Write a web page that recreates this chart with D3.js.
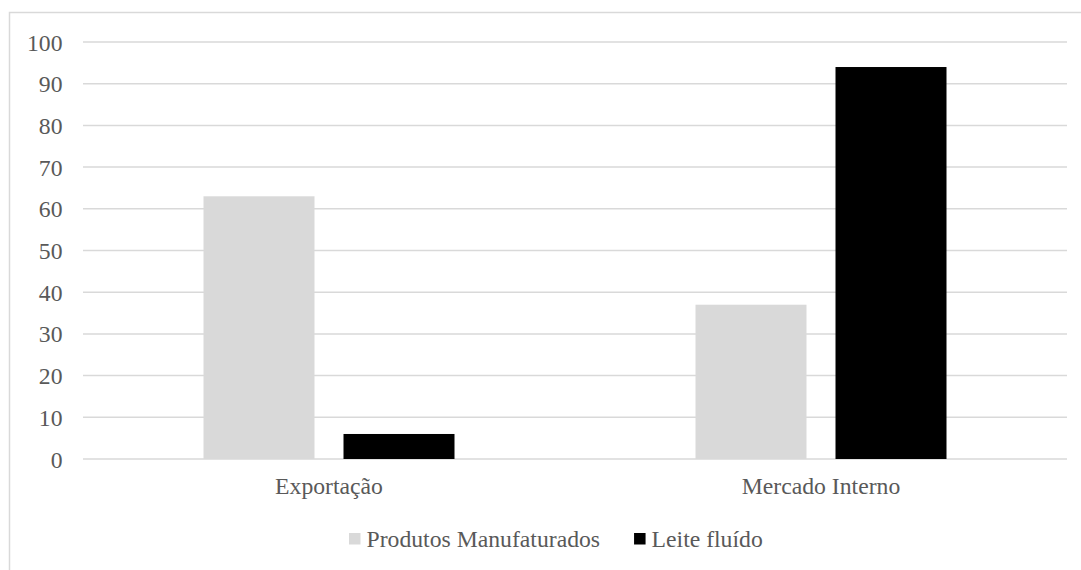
<!DOCTYPE html>
<html>
<head>
<meta charset="utf-8">
<script src="https://cdn.jsdelivr.net/npm/d3@7"></script>
<style>
  html, body { margin: 0; padding: 0; background: #fff; }
  svg { display: block; }
  svg text { font-family: "Liberation Serif", "Times New Roman", Tinos, "DejaVu Serif", serif; font-size: 23.7px; fill: #595959; }
</style>
</head>
<body>
<svg id="chart" width="1081" height="570"></svg>
<script>
// Destino da produção de leite (%)
const categories = ["Exportação", "Mercado Interno"];
const series = ["Produtos Manufaturados", "Leite fluído"];
const manufaturados = [63, 37];
const leiteFluido = [6, 94];
const yTicks = [0, 10, 20, 30, 40, 50, 60, 70, 80, 90, 100];

const colors = { "Produtos Manufaturados": "#d9d9d9", "Leite fluído": "#000000" };
const gridColor = "#d9d9d9";

const svg = d3.select("#chart");

// Chart area frame (extends past the right and bottom edges)
svg.append("rect")
  .attr("x", 9.5).attr("y", 12.5)
  .attr("width", 1100).attr("height", 600)
  .attr("fill", "none")
  .attr("stroke", gridColor)
  .attr("stroke-width", 1.5);

const plot = { left: 83, right: 1067, top: 42, bottom: 459 };

const y = d3.scaleLinear().domain([0, 100]).range([plot.bottom, plot.top]);
const x0 = d3.scaleBand().domain(categories).range([plot.left, plot.right]).padding(0);
const groupWidth = 251;
const x1 = d3.scaleBand().domain(series).range([0, groupWidth]).paddingInner(29 / 140);

// Gridlines
svg.append("g")
  .selectAll("line")
  .data(yTicks)
  .join("line")
  .attr("x1", plot.left).attr("x2", plot.right)
  .attr("y1", d => y(d)).attr("y2", d => y(d))
  .attr("stroke", gridColor)
  .attr("stroke-width", 1.5);

// Y axis labels
const yAxis = d3.axisLeft(y).tickValues(yTicks).tickSize(0).tickPadding(0);
const yG = svg.append("g")
  .attr("transform", `translate(${62.5},0)`)
  .call(yAxis)
  .attr("font-family", null).attr("font-size", null);
yG.select(".domain").remove();
yG.selectAll("text").attr("fill", null).attr("dy", "0.34em");

// Bars
const rows = categories.map((c, i) => ({
  category: c,
  values: [
    { key: series[0], value: manufaturados[i] },
    { key: series[1], value: leiteFluido[i] }
  ]
}));

const groups = svg.append("g")
  .selectAll("g")
  .data(rows)
  .join("g")
  .attr("transform", d => `translate(${x0(d.category) + (x0.bandwidth() - groupWidth) / 2},0)`);

groups.selectAll("rect")
  .data(d => d.values)
  .join("rect")
  .attr("x", d => x1(d.key))
  .attr("y", d => y(d.value))
  .attr("width", x1.bandwidth())
  .attr("height", d => y(0) - y(d.value))
  .attr("fill", d => colors[d.key]);

// Category labels
const xAxis = d3.axisBottom(x0).tickSize(0).tickPadding(0);
const xG = svg.append("g")
  .attr("transform", `translate(0,${494})`)
  .call(xAxis)
  .attr("font-family", null).attr("font-size", null);
xG.select(".domain").remove();
xG.selectAll("text").attr("fill", null).attr("dy", 0);

// Legend
const legend = svg.append("g").attr("transform", "translate(349,0)");
let lx = 0;
series.forEach((s) => {
  legend.append("rect")
    .attr("x", lx).attr("y", 533)
    .attr("width", 11.5).attr("height", 11.5)
    .attr("fill", colors[s]);
  const t = legend.append("text")
    .attr("x", lx + 17.5).attr("y", 547)
    .text(s);
  lx += 17.5 + t.node().getComputedTextLength() + 34;
});
</script>
</body>
</html>
